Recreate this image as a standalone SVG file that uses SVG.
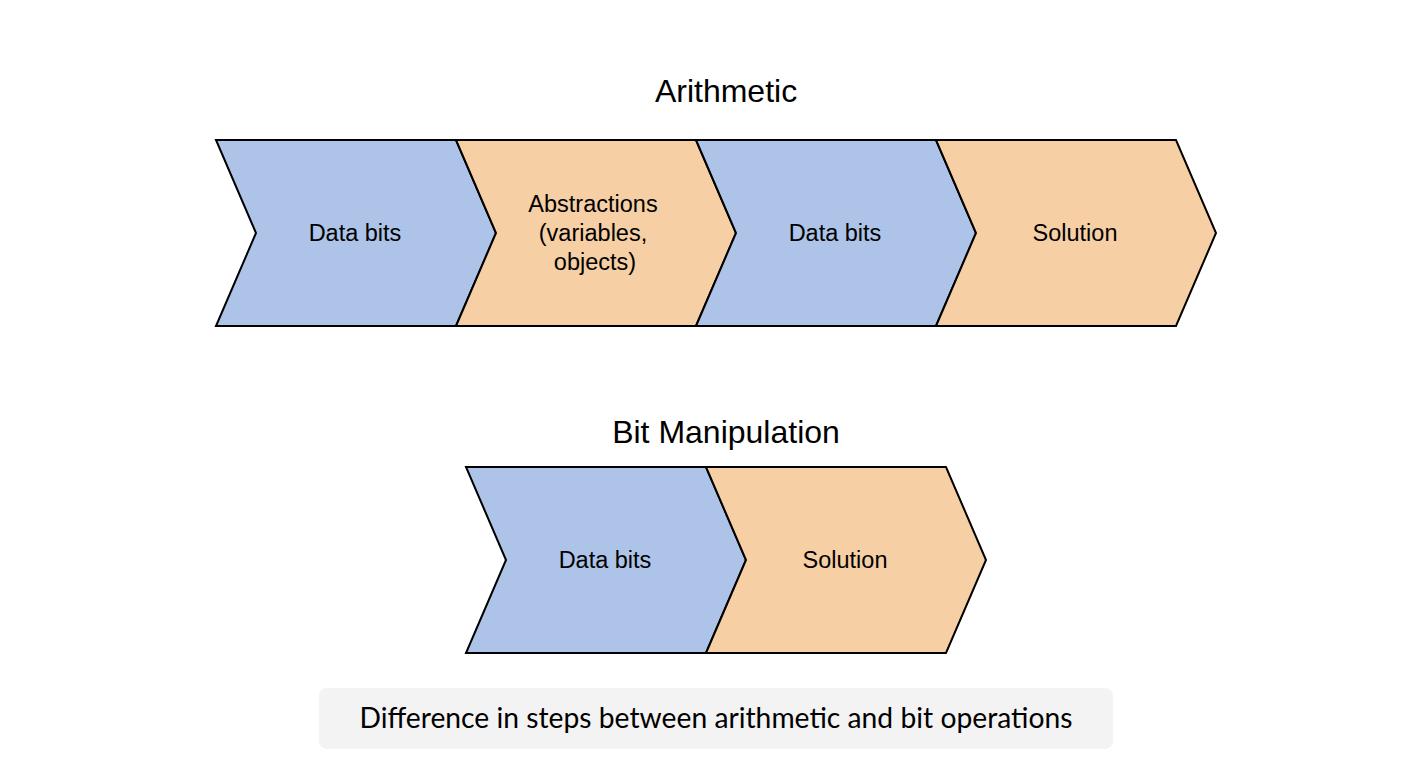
<svg xmlns="http://www.w3.org/2000/svg" width="1408" height="782" viewBox="0 0 1408 782">
<style>
.step{stroke:#000;stroke-width:2;stroke-linejoin:miter}
.blue{fill:#AEC3E8}
.orange{fill:#F6CFA5}
.lbl{font-family:"Liberation Sans",Arial,sans-serif;font-size:23.5px;fill:#000;text-anchor:middle;dominant-baseline:central}
.title{font-family:"Liberation Sans",Arial,sans-serif;font-size:32px;fill:#000;text-anchor:middle}
.cap{font-family:Lato,"Open Sans",sans-serif;font-size:28px;fill:#000;text-anchor:middle}
</style>
<rect width="1408" height="782" fill="#fff"/>
<text class="title" x="726" y="102">Arithmetic</text>
<text class="title" x="726" y="443">Bit Manipulation</text>
<g id="a1"><polygon class="step blue" points="216,140 456,140 496,233 456,326 216,326 256,233"/><text class="lbl" x="355" y="233">Data bits</text></g>
<g id="a2"><polygon class="step orange" points="456,140 696,140 736,233 696,326 456,326 496,233"/><text class="lbl" x="593" y="204">Abstractions</text><text class="lbl" x="593" y="233">(variables,</text><text class="lbl" x="595" y="262">objects)</text></g>
<g id="a3"><polygon class="step blue" points="696,140 936,140 976,233 936,326 696,326 736,233"/><text class="lbl" x="835" y="233">Data bits</text></g>
<g id="a4"><polygon class="step orange" points="936,140 1176,140 1216,233 1176,326 936,326 976,233"/><text class="lbl" x="1075" y="233">Solution</text></g>
<g id="b1"><polygon class="step blue" points="466,467 706,467 746,560 706,653 466,653 506,560"/><text class="lbl" x="605" y="560">Data bits</text></g>
<g id="b2"><polygon class="step orange" points="706,467 946,467 986,560 946,653 706,653 746,560"/><text class="lbl" x="845" y="560">Solution</text></g>
<g id="connectors"></g>
<g id="caption"><rect x="319" y="688" width="794" height="61" rx="8" fill="#F3F3F3"/><text class="cap" x="716" y="728" textLength="713" lengthAdjust="spacingAndGlyphs">Difference in steps between arithmetic and bit operations</text></g>
</svg>
